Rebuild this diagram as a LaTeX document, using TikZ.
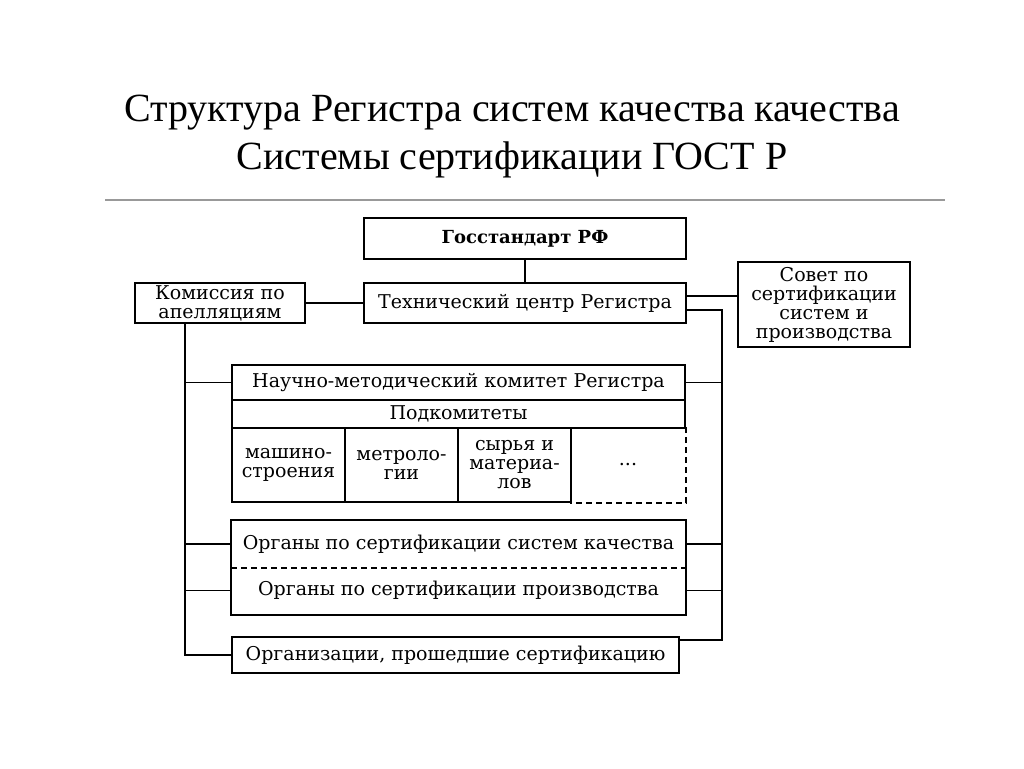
\documentclass[tikz,border=0pt]{standalone}
\usepackage{fontspec}
\setmainfont{Liberation Serif}
\newfontfamily\titlefont{Liberation Serif}
\newfontfamily\boxfont{DejaVu Serif}
\tikzset{
  blk/.style={draw, line width=1.8pt, inner sep=0pt, align=center,
    font=\boxfont\fontsize{19}{19}\selectfont},
  cell/.style={blk, minimum width=113, minimum height=74},
  link/.style={line width=1.8pt},
}
\begin{document}
\begin{tikzpicture}[x=1pt,y=-1pt]
  \useasboundingbox (0,0) rectangle (1024,768);
  \node [font=\titlefont\fontsize{40}{48}\selectfont, align=center] (title) at (512,137)
    {Структура Регистра систем качества качества\\Системы сертификации ГОСТ Р};
  \draw [gray!80, line width=1.8pt] (105,200) -- (945,200);
  % upper level
  \node [blk, minimum width=322, minimum height=41, font=\boxfont\bfseries\fontsize{18}{19}\selectfont] (gost) at (525,238.5) {Госстандарт РФ};
  \node [blk, minimum width=322, minimum height=40] (tc) at (525,303) {Технический центр Регистра};
  \node [blk, minimum width=170, minimum height=40] (kom) at (220,303) {Комиссия по\\апелляциям};
  \node [blk, minimum width=172, minimum height=85] (sov) at (824,304.5) {Совет по\\сертификации\\систем и\\производства};
  % committee and subcommittees
  \node [blk, minimum width=453, minimum height=35] (nmk) at (458.5,382.5) {Научно-методический комитет Регистра};
  \node [blk, minimum width=453, minimum height=28] (pod) at (458.5,414) {Подкомитеты};
  \node [cell] (c1) at (288.5,465) {машино-\\строения};
  \node [cell] (c2) at (401.5,465) {метроло-\\гии};
  \node [cell] (c3) at (514.5,465) {сырья и\\материа-\\лов};
  \node [cell, draw=none, minimum width=114] (c4) at (628,465) {...};
  \draw [link, dash pattern=on 6pt off 4pt] (c4.north east) -- (c4.south east) -- (c4.south west);
  % certification bodies
  \node [blk, draw=none, minimum width=453, minimum height=46] (org1) at (458.5,544) {Органы по сертификации систем качества};
  \node [blk, draw=none, minimum width=453, minimum height=47] (org2) at (458.5,590.5) {Органы по сертификации производства};
  \draw [link] (org1.north west) rectangle (org2.south east);
  \draw [link, dash pattern=on 6pt off 4pt] (org1.south west) -- (org1.south east);
  \node [blk, minimum width=447, minimum height=36] (prosh) at (455.5,655) {Организации, прошедшие сертификацию};
  % connectors
  \coordinate (lbus) at (185,0);
  \coordinate (rbus) at (722,0);
  \draw [link] (gost) -- (tc);
  \draw [link] (kom) -- (tc);
  \draw [link] ([yshift=7pt]tc.east) coordinate (tcs) -- (tcs -| sov.west);
  \coordinate (pe) at ([yshift=-4pt]prosh.north east);
  \draw [link] ([yshift=-7pt]tc.east) -| (rbus |- pe) -- (pe);
  \draw [link] (nmk.east) -- (rbus |- nmk.east);
  \draw [link] (org1.east) -- (rbus |- org1.east);
  \draw [link] (org2.east) -- (rbus |- org2.east);
  \draw [link] (kom.south -| lbus) -- (lbus |- prosh.west) -- (prosh.west);
  \draw [link] (lbus |- nmk.west) -- (nmk.west);
  \draw [link] (lbus |- org1.west) -- (org1.west);
  \draw [link] (lbus |- org2.west) -- (org2.west);
\end{tikzpicture}
\end{document}
